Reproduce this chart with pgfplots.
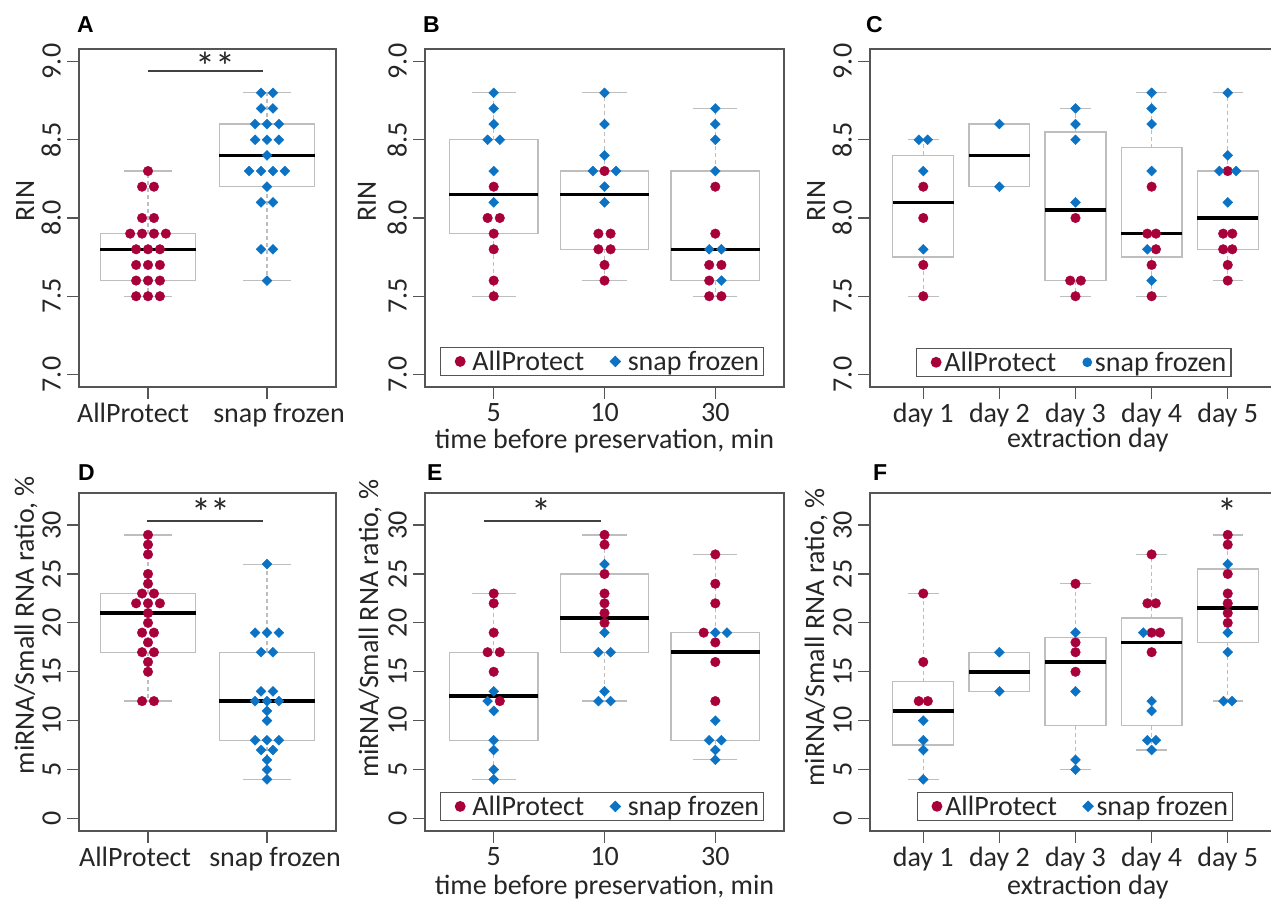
\documentclass[border=0pt]{standalone}
\usepackage{fontspec}
\setmainfont{Carlito}
\newfontfamily\letterfont{Liberation Sans}
\usepackage{pgfplots}
\pgfplotsset{compat=1.18}
\usepgfplotslibrary{statistics}

\definecolor{apred}{HTML}{A8003A}
\definecolor{sfblue}{HTML}{0B72C4}
\definecolor{boxgray}{HTML}{BEBEBE}
\definecolor{frame}{HTML}{555555}

% one box: position, lower whisker, lower quartile, median, upper quartile, upper whisker
\newcommand{\bx}[6]{%
  \addplot[forget plot, draw=boxgray, boxplot prepared={draw direction=y, draw position=#1,
    lower whisker=#2, lower quartile=#3, median=#4, upper quartile=#5, upper whisker=#6}] coordinates {};
  \pgfmathsetmacro\capL{#1-0.2}\pgfmathsetmacro\capR{#1+0.2}%
  \edef\docaps{\noexpand\addplot[forget plot, capst] coordinates {(\capL,#2) (\capR,#2)};%
    \noexpand\addplot[forget plot, capst] coordinates {(\capL,#6) (\capR,#6)};}%
  \docaps
}

\tikzset{signif/.style={anchor=base, text=black!85, inner sep=0pt, font=\fontsize{40bp}{40bp}\selectfont}}

\pgfplotsset{
  capst/.style={draw=boxgray, line width=1.3bp, no marks},
  sigst/.style={forget plot, draw=black!75, line width=1.3bp, no marks},
  panel/.style={
    scale only axis, anchor=south west, height=338bp,
    axis line style={draw=frame, line width=1.2bp},
    xtick pos=bottom, ytick pos=left,
    tick align=outside, major tick length=12bp,
    tick style={draw=frame, line width=1.2bp},
    tick label style={text=black!85},
    yticklabel style={rotate=90, anchor=south, inner sep=6bp},
    xticklabel style={inner sep=1bp, yshift=-3bp},
    label style={text=black!85, inner sep=0pt},
    boxplot/box extend=0.8, boxplot/whisker extend=0,
    boxplot/every box/.style={draw=boxgray, line width=1.3bp},
    boxplot/every whisker/.style={draw=boxgray, line width=1.3bp, dash pattern=on 4bp off 3bp},
    boxplot/every median/.style={draw=black, line width=3.5bp},
    legend columns=2,
    legend image code/.code={\path[draw=none, fill=none] (-16.5bp,0bp) -- (0bp,0bp);
      \draw[##1] plot coordinates {(0bp,0bp)};},
    legend style={draw=frame, line width=1.2bp, inner xsep=3bp, inner ysep=2bp,
      nodes={inner sep=1.5bp, text=black!85},
      /tikz/every even column/.append style={column sep=13bp}},
  },
  rin/.style={ymin=6.92, ymax=9.08, ytick={7,7.5,8,8.5,9}, yticklabels={7.0,7.5,8.0,8.5,9.0}, ylabel={RIN}},
  mir/.style={ymin=-1.28, ymax=33.28, ytick={0,5,10,15,20,25,30}, yticklabels={0,5,10,15,20,25,30},
    ylabel={miRNA/Small RNA ratio, \%}},
  two/.style={xmin=0.42, xmax=2.58, width=257bp, xtick={1,2}},
  three/.style={xmin=0.38, xmax=3.62, width=359bp, xtick={1,2,3}, xticklabels={5,10,30},
    xlabel={time before preservation, min},
    legend style={/tikz/every odd column/.append style={column sep=6bp}}},
  five/.style={xmin=0.3, xmax=5.7, width=411bp, xtick={1,2,3,4,5},
    xticklabels={day 1,day 2,day 3,day 4,day 5}, xlabel={extraction day},
    legend style={/tikz/every odd column/.append style={column sep=2bp}}},
  redpts/.style={only marks, mark=*, mark size=4.8bp, color=apred},
  bluepts/.style={only marks, mark=square*, mark size=3.5bp, mark options={rotate=45}, color=sfblue},
}

\begin{document}
\begin{tikzpicture}[font=\fontsize{28bp}{34bp}\selectfont]
\useasboundingbox (0,0) rectangle (1271bp,901bp);

% ---------- A ----------
\begin{axis}[panel, rin, two, at={(79bp,514bp)},
  xticklabels={\hspace*{-30bp}AllProtect,\hspace*{24bp}snap frozen},
  ylabel style={at={(axis description cs:-0.210,0.550)}, anchor=center}]
\bx{1}{7.5}{7.6}{7.8}{7.9}{8.3}
\bx{2}{7.6}{8.2}{8.4}{8.6}{8.8}
\addplot[redpts] coordinates {(1,8.3) (0.95,8.2) (1.05,8.2) (0.95,8.0) (1.05,8.0)
  (0.85,7.9) (0.95,7.9) (1.05,7.9) (1.15,7.9) (0.9,7.8) (1,7.8) (1.1,7.8)
  (0.9,7.7) (1,7.7) (1.1,7.7) (0.9,7.6) (1,7.6) (1.1,7.6) (0.9,7.5) (1,7.5) (1.1,7.5)};
\addplot[bluepts] coordinates {(1.95,8.8) (2.05,8.8) (1.95,8.7) (2.05,8.7)
  (1.9,8.6) (2,8.6) (2.1,8.6) (1.9,8.5) (2,8.5) (2.1,8.5) (2,8.4)
  (1.85,8.3) (1.95,8.3) (2.05,8.3) (2.15,8.3) (2,8.2) (1.95,8.1) (2.05,8.1)
  (1.95,7.8) (2.05,7.8) (2,7.6)};
\addplot[sigst] coordinates {(1,8.94) (1.97,8.94)};
\node[signif] at (axis cs:1.567,8.88) {**};
\end{axis}

% ---------- B ----------
\begin{axis}[panel, rin, three, at={(425bp,514bp)},
  ylabel style={at={(axis description cs:-0.162,0.550)}, anchor=center},
  xlabel style={at={(axis description cs:0.5,0)}, anchor=base, yshift=-62bp},
  legend style={at={(axis description cs:0.042,0.0325)}, anchor=south west}]
\bx{1}{7.5}{7.9}{8.15}{8.5}{8.8}
\bx{2}{7.6}{7.8}{8.15}{8.3}{8.8}
\bx{3}{7.5}{7.6}{7.8}{8.3}{8.7}
\addplot[redpts] coordinates {(1,8.2) (0.945,8.0) (1.055,8.0) (1,7.9) (1,7.8) (1,7.6) (1,7.5)
  (2,8.3) (1.945,7.9) (2.055,7.9) (1.945,7.8) (2.055,7.8) (2,7.7) (2,7.6)
  (3,8.2) (3,7.9) (2.945,7.7) (3.055,7.7) (2.945,7.6) (2.945,7.5) (3.055,7.5)};
\addlegendentry{AllProtect}
\addplot[bluepts] coordinates {(1,8.8) (1,8.7) (1,8.6) (0.945,8.5) (1.055,8.5) (1,8.3) (1,8.1)
  (2,8.8) (2,8.6) (2,8.4) (1.895,8.3) (2.105,8.3) (2,8.2) (2,8.1)
  (3,8.7) (3,8.6) (3,8.5) (3,8.3) (2.945,7.8) (3.055,7.8) (3.055,7.6)};
\addlegendentry{snap frozen}
\end{axis}

% ---------- C ----------
\begin{axis}[panel, rin, five, at={(870bp,514bp)},
  ylabel style={at={(axis description cs:-0.131,0.550)}, anchor=center},
  xlabel style={at={(axis description cs:0.530,0)}, anchor=base, yshift=-61bp},
  legend style={at={(axis description cs:0.112,0.030)}, anchor=south west}]
\bx{1}{7.5}{7.75}{8.1}{8.4}{8.5}
\bx{2}{8.2}{8.2}{8.4}{8.6}{8.6}
\bx{3}{7.5}{7.6}{8.05}{8.55}{8.7}
\bx{4}{7.5}{7.75}{7.9}{8.45}{8.8}
\bx{5}{7.6}{7.8}{8.0}{8.3}{8.8}
\addplot[redpts] coordinates {(1,8.2) (1,8.0) (1,7.7) (1,7.5)
  (3,8.0) (2.93,7.6) (3.07,7.6) (3,7.5)
  (4,8.2) (3.943,7.9) (4.057,7.9) (4.057,7.8) (4,7.7) (4,7.5)
  (5,8.3) (4.94,7.9) (5.06,7.9) (4.94,7.8) (5.06,7.8) (5,7.7) (5,7.6)};
\addlegendentry{AllProtect}
\addplot[bluepts, legend image post style={mark=*, mark options={rotate=0}, mark size=4.2bp}]
  coordinates {(0.943,8.5) (1.057,8.5) (1,8.3) (1,7.8)
  (2,8.6) (2,8.2)
  (3,8.7) (3,8.6) (3,8.5) (3,8.1)
  (4,8.8) (4,8.7) (4,8.6) (4,8.3) (3.943,7.8) (4,7.6)
  (5,8.8) (5,8.4) (4.89,8.3) (5.11,8.3) (5,8.1)};
\addlegendentry{snap frozen}
\end{axis}

% ---------- D ----------
\begin{axis}[panel, mir, two, at={(79bp,70bp)},
  xticklabels={\hspace*{-26bp}AllProtect,\hspace*{16bp}snap frozen},
  ylabel style={at={(axis description cs:-0.206,0.609)}, anchor=center}]
\bx{1}{12}{17}{21}{23}{29}
\bx{2}{4}{8}{12}{17}{26}
\addplot[redpts] coordinates {(1,29) (1,28) (1,27) (1,25) (1,24) (0.95,23) (1.05,23)
  (0.9,22) (1,22) (1.1,22) (1,21) (1,20) (0.95,19) (1.05,19) (1,18)
  (0.95,17) (1.05,17) (1,16) (1,15) (0.95,12) (1.05,12)};
\addplot[bluepts] coordinates {(2,26) (1.9,19) (2,19) (2.1,19) (1.95,17) (2.05,17)
  (1.95,13) (2.05,13) (1.9,12) (2,12) (2.1,12) (2,11) (2,10)
  (1.9,8) (2,8) (2.1,8) (1.95,7) (2.05,7) (2,6) (2,5) (2,4)};
\addplot[sigst] coordinates {(0.99,30.42) (1.966,30.42)};
\node[signif] at (axis cs:1.529,29.9) {**};
\end{axis}

% ---------- E ----------
\begin{axis}[panel, mir, three, at={(425bp,70bp)},
  ylabel style={at={(axis description cs:-0.153,0.598)}, anchor=center},
  xlabel style={at={(axis description cs:0.5,0)}, anchor=base, yshift=-63bp},
  legend style={at={(axis description cs:0.042,0.0296)}, anchor=south west}]
\bx{1}{4}{8}{12.5}{17}{23}
\bx{2}{12}{17}{20.5}{25}{29}
\bx{3}{6}{8}{17}{19}{27}
\addplot[redpts] coordinates {(1,23) (1,22) (1,19) (0.945,17) (1.055,17) (1,15) (1.055,12)
  (2,29) (2,28) (2,25) (2,23) (2,22) (2,21) (2,20)
  (3,27) (3,24) (3,22) (2.895,19) (3,18) (3,16) (3,12)};
\addlegendentry{AllProtect}
\addplot[bluepts] coordinates {(1,13) (0.945,12) (1,11) (1,8) (1,7) (1,5) (1,4)
  (2,26) (2,19) (1.945,17) (2.055,17) (2,13) (1.945,12) (2.055,12)
  (3,19) (3.105,19) (3,10) (2.945,8) (3.055,8) (3,7) (3,6)};
\addlegendentry{snap frozen}
\addplot[sigst] coordinates {(0.912,30.42) (1.968,30.42)};
\node[signif] at (axis cs:1.427,29.9) {*};
\end{axis}

% ---------- F ----------
\begin{axis}[panel, mir, five, at={(870bp,70bp)},
  ylabel style={at={(axis description cs:-0.131,0.573)}, anchor=center},
  xlabel style={at={(axis description cs:0.530,0)}, anchor=base, yshift=-63bp},
  legend style={at={(axis description cs:0.114,0.030)}, anchor=south west}]
\bx{1}{4}{7.5}{11}{14}{23}
\bx{2}{13}{13}{15}{17}{17}
\bx{3}{5}{9.5}{16}{18.5}{24}
\bx{4}{7}{9.5}{18}{20.5}{27}
\bx{5}{12}{18}{21.5}{25.5}{29}
\addplot[redpts] coordinates {(1,23) (1,16) (0.94,12) (1.06,12)
  (3,24) (3,18) (3,17) (3,15)
  (4,27) (3.945,22) (4.055,22) (4,19) (4.11,19) (4,17)
  (5,29) (5,28) (5,25) (5,23) (5,22) (5,21) (5,20)};
\addlegendentry{AllProtect}
\addplot[bluepts] coordinates {(1,10) (1,8) (1,7) (1,4)
  (2,17) (2,13)
  (3,19) (3,13) (3,6) (3,5)
  (3.89,19) (4,12) (4,11) (3.945,8) (4.055,8) (4,7)
  (5,26) (5,19) (5,17) (4.945,12) (5.055,12)};
\addlegendentry{snap frozen}
\node[signif] at (axis cs:5,29.9) {*};
\end{axis}

% panel letters
\begin{scope}[every node/.style={anchor=base west, inner sep=0pt,
    font=\letterfont\bfseries\fontsize{23bp}{23bp}\selectfont}]
\node at (77bp,868bp) {A};
\node at (423bp,868bp) {B};
\node at (866bp,868bp) {C};
\node at (78bp,420bp) {D};
\node at (427bp,420bp) {E};
\node at (873bp,420bp) {F};
\end{scope}
\end{tikzpicture}
\end{document}
